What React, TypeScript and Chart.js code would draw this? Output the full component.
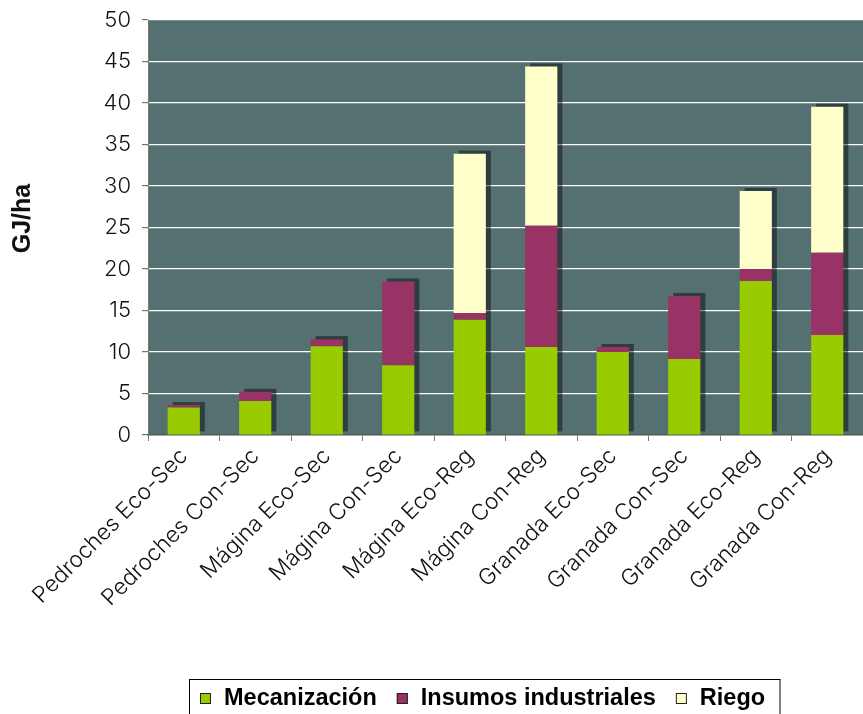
import React, { useEffect, useRef } from "react";
import { Chart, registerables } from "chart.js";

Chart.register(...registerables);

const categories = [
  "Pedroches Eco-Sec",
  "Pedroches Con-Sec",
  "Mágina Eco-Sec",
  "Mágina Con-Sec",
  "Mágina Eco-Reg",
  "Mágina Con-Reg",
  "Granada Eco-Sec",
  "Granada Con-Sec",
  "Granada Eco-Reg",
  "Granada Con-Reg",
];
const mecanizacion = [3.3, 4.1, 10.7, 8.4, 13.9, 10.6, 10.0, 9.15, 18.55, 12.05];
const insumos = [0.3, 1.1, 0.85, 10.1, 0.8, 14.6, 0.6, 7.6, 1.45, 9.9];
const riego = [0, 0, 0, 0, 19.2, 19.2, 0, 0, 9.4, 17.6];
const seriesLabels = ["Mecanización", "Insumos industriales", "Riego"];
const seriesColors = ["#99cc00", "#993366", "#ffffcc"];
const yTitle = "GJ/ha";

const AXIS_FONT = '"Inter"';
const LEGEND_FONT = 'bold 23.5px "Liberation Sans", Arial, sans-serif';

const decorPlugin = {
  id: "decor",
  beforeDraw(chart: any) {
    const { ctx, chartArea } = chart;
    ctx.save();
    ctx.fillStyle = "#557070";
    ctx.fillRect(chartArea.left, chartArea.top, chartArea.right - chartArea.left, chartArea.bottom - chartArea.top);
    ctx.restore();
  },
  beforeDatasetsDraw(chart: any) {
    const { ctx, chartArea } = chart;
    ctx.save();
    ctx.beginPath();
    ctx.rect(chartArea.left, chartArea.top, chartArea.right - chartArea.left, chartArea.bottom - chartArea.top);
    ctx.clip();
    ctx.fillStyle = "rgba(0,0,0,0.45)";
    chart.data.datasets.forEach((_d: any, di: number) => {
      const meta = chart.getDatasetMeta(di);
      meta.data.forEach((bar: any) => {
        const { x, y, base, width } = bar.getProps(["x", "y", "base", "width"], true);
        const h = base - y;
        if (h < 0.5) return;
        ctx.fillRect(x - width / 2 + 5, y - 3, width, h);
      });
    });
    ctx.restore();
  },
  afterDraw(chart: any) {
    const { ctx, chartArea } = chart;
    ctx.save();
    // y-axis title
    ctx.translate(23, (chartArea.top + chartArea.bottom) / 2 - 9);
    ctx.rotate(-Math.PI / 2);
    ctx.font = 'bold 25px "Liberation Sans", Arial, sans-serif';
    ctx.fillStyle = "#111";
    ctx.textAlign = "center";
    ctx.textBaseline = "middle";
    ctx.fillText(yTitle, 0, 0);
    ctx.restore();

    // legend
    ctx.save();
    ctx.strokeStyle = "#000";
    ctx.lineWidth = 1;
    ctx.strokeRect(189.5, 679.5, 590.5, 60);
    ctx.font = LEGEND_FONT;
    ctx.textBaseline = "middle";
    ctx.textAlign = "left";
    let x = 200;
    const cy = 698.5;
    chart.data.datasets.forEach((ds: any) => {
      ctx.fillStyle = ds.backgroundColor;
      ctx.fillRect(x, cy - 5.5, 11, 11);
      ctx.strokeStyle = "#222";
      ctx.strokeRect(x + 0.5, cy - 5, 10, 10);
      ctx.fillStyle = "#000";
      ctx.fillText(ds.label, x + 24, cy);
      x += 24 + ctx.measureText(ds.label).width + 20;
    });
    ctx.restore();
  },
};

export default function App() {
  const ref = useRef<HTMLCanvasElement>(null);
  useEffect(() => {
    document.body.style.margin = "0";
    const values = [mecanizacion, insumos, riego];
    const chart = new Chart(ref.current!, {
      type: "bar",
      data: {
        labels: categories,
        datasets: values.map((v, i) => ({
          label: seriesLabels[i],
          data: v,
          backgroundColor: seriesColors[i],
          borderWidth: 0,
          categoryPercentage: 1,
          barPercentage: 0.45,
        })),
      },
      options: {
        responsive: false,
        animation: false,
        layout: { padding: { top: 20, bottom: 35, left: 0, right: 0 } },
        plugins: { legend: { display: false }, tooltip: { enabled: false } },
        scales: {
          x: {
            stacked: true,
            grid: { drawOnChartArea: false, drawTicks: true, tickLength: 6, tickColor: "#777", offset: true },
            border: { color: "#555", width: 1.5 },
            ticks: {
              color: "#111",
              font: { family: AXIS_FONT, size: 22.5, weight: "300" as any },
              minRotation: 45,
              maxRotation: 45,
              padding: 2,
              autoSkip: false,
            },
            afterFit(scale: any) {
              scale.height = 244;
              scale.paddingLeft = 0;
              scale.paddingRight = 0;
            },
          },
          y: {
            stacked: true,
            min: 0,
            max: 50,
            grid: { color: "#ffffff", lineWidth: 1.2, tickLength: 6, tickColor: "#777" },
            border: { color: "#777", width: 1 },
            ticks: {
              stepSize: 5,
              color: "#111",
              padding: 11,
              font: { family: AXIS_FONT, size: 22, weight: "300" as any },
            },
            afterFit(scale: any) {
              scale.width = 148;
              scale.paddingTop = 0;
              scale.paddingBottom = 0;
            },
          },
        },
      },
      plugins: [decorPlugin],
    });
    return () => chart.destroy();
  }, []);
  return <canvas ref={ref} width={863} height={714} style={{ display: "block" }} />;
}
